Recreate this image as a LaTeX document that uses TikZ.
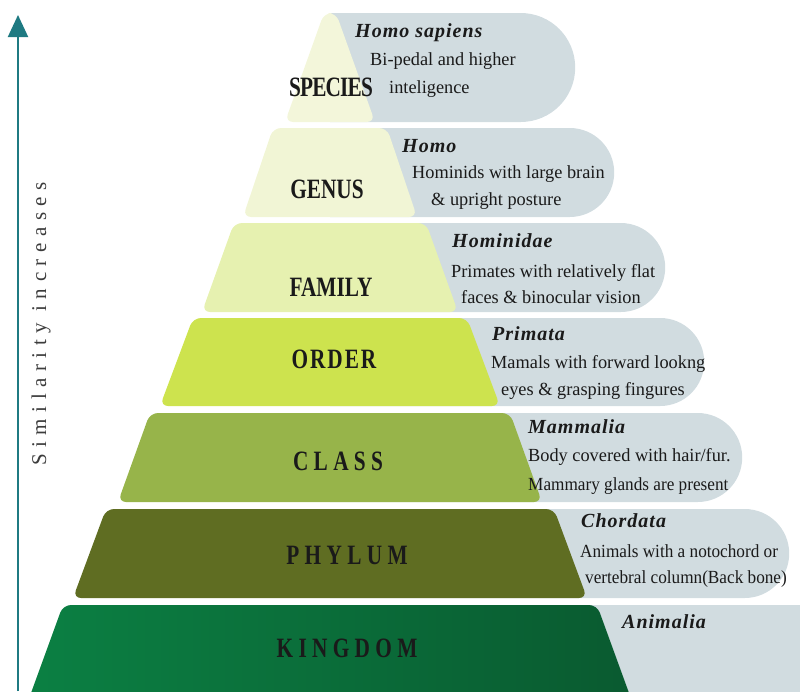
\documentclass[tikz,border=0pt]{standalone}
\usepackage{fontspec}
\setmainfont{Liberation Serif}
\newfontfamily\rankfont[FakeStretch=0.76]{Liberation Serif}
\newfontfamily\notefont[FakeStretch=0.99]{Liberation Serif}
\newfontfamily\narrownote[FakeStretch=0.93]{Liberation Serif}
\usetikzlibrary{arrows.meta,shapes.misc,positioning}
\definecolor{bubblegray}{HTML}{D1DCE0}
\definecolor{axisteal}{HTML}{1F7A82}
\definecolor{inkblack}{HTML}{1A1A1A}
\definecolor{speciesfill}{HTML}{F3F6DA}
\definecolor{genusfill}{HTML}{F1F5D5}
\definecolor{familyfill}{HTML}{E6F1B0}
\definecolor{orderfill}{HTML}{CDE34E}
\definecolor{classfill}{HTML}{97B44A}
\definecolor{phylumfill}{HTML}{5F6D22}
\definecolor{kingdomA}{HTML}{0B8043}
\definecolor{kingdomB}{HTML}{0A5A30}
\tikzset{
   bubble/.style={rounded rectangle,rounded rectangle west arc=none,
     fill=bubblegray,inner sep=0pt,anchor=west},
   rank/.style={text=inkblack,
     font=\rankfont\bfseries\fontsize{28}{28}\selectfont},
   widerank/.style={rank,
     font=\rankfont\bfseries\fontsize{28}{28}\selectfont\addfontfeature{LetterSpace=19}},
   taxon/.style={anchor=base west,inner sep=0pt,text=inkblack,
     font=\bfseries\itshape\fontsize{20}{20}\selectfont\addfontfeature{LetterSpace=5}},
   note/.style={anchor=base west,inner sep=0pt,text=inkblack,
     font=\notefont\fontsize{18.5}{18.5}\selectfont},
}
\begin{document}
\begin{tikzpicture}[x=1pt,y=-1pt,
      axisarrow/.style={-{Triangle[width=20pt,length=22pt]},line width=2pt,axisteal},
      level/.style={rounded corners=8pt},
      ]
      \useasboundingbox (0,0) rectangle (800,691);
      \clip (0,0) rectangle (800,691);

      % grey bubbles behind the steps
      \node (bub1) [bubble,minimum height=109pt,minimum width=245pt] at (330,67.5) {};
      \node (bub2) [bubble,minimum height=89pt,minimum width=284pt] at (330,172.5) {};
      \node (bub3) [bubble,minimum height=89pt,minimum width=335pt] at (330,267.5) {};
      \node (bub4) [bubble,minimum height=88pt,minimum width=374pt] at (330,362) {};
      \node (bub5) [bubble,minimum height=89pt,minimum width=412pt] at (330,457.5) {};
      \node (bub6) [bubble,minimum height=89pt,minimum width=459pt] at (330,553.5) {};
      \node (bub7) [bubble,minimum height=175pt,minimum width=600pt] at (330,692.5) {};

      % pyramid steps
      \fill [level,speciesfill] (324,13) -- (336,13) -- (375,122) -- (285,122) -- cycle;
      \fill [level,genusfill] (273,128) -- (387,128) -- (417,217) -- (243,217) -- cycle;
      \fill [level,familyfill] (234,223) -- (426,223) -- (458,312) -- (202,312) -- cycle;
      \fill [level,orderfill] (193,318) -- (467,318) -- (500,406) -- (160,406) -- cycle;
      \fill [level,classfill] (150,413) -- (510,413) -- (542,502) -- (118,502) -- cycle;
      \fill [level,phylumfill] (106,509) -- (554,509) -- (587,598) -- (73,598) -- cycle;
      \shade [level,left color=kingdomA,right color=kingdomB]
        (63,605) -- (597,605) -- (637,715) -- (23,715) -- cycle;

      % ranks
      \node (species) [rank,font=\rankfont\bfseries\fontsize{28}{28}\selectfont\addfontfeature{LetterSpace=-3}] at (331,87.5) {SPECIES};
      \node (genus) [rank] at (327,189) {GENUS};
      \node (family) [rank] at (331,287) {FAMILY};
      \node (order) [rank,font=\rankfont\bfseries\fontsize{28}{28}\selectfont\addfontfeature{LetterSpace=7}] at (334,359) {ORDER};
      \node (class) [widerank] at (338,461.5) {CLASS};
      \node (phylum) [widerank] at (347,555) {PHYLUM};
      \node (kingdom) [widerank] at (347,648) {KINGDOM};

      % taxa and their notes
      \node (sapiens) [taxon] at (355,37) {Homo sapiens};
      \node (sapiens1) [note] at (370,65) {Bi-pedal and higher};
      \node (sapiens2) [note] at (389,93) {inteligence};
      \node (homo) [taxon] at (402,152) {Homo};
      \node (homo1) [note] at (412,178) {Hominids with large brain};
      \node (homo2) [note] at (431,205) {\& upright posture};
      \node (hominidae) [taxon] at (452,247) {Hominidae};
      \node (hominidae1) [note] at (451,277) {Primates with relatively flat};
      \node (hominidae2) [note] at (461,303) {faces \& binocular vision};
      \node (primata) [taxon] at (492,340) {Primata};
      \node (primata1) [note] at (491,368) {Mamals with forward lookng};
      \node (primata2) [note] at (501,395) {eyes \& grasping fingures};
      \node (mammalia) [taxon] at (528,433) {Mammalia};
      \node (mammalia1) [note] at (528,461) {Body covered with hair/fur.};
      \node (mammalia2) [note,font=\narrownote\fontsize{18.5}{18.5}\selectfont] at (528,490) {Mammary glands are present};
      \node (chordata) [taxon] at (581,527) {Chordata};
      \node (chordata1) [note,font=\narrownote\fontsize{18.5}{18.5}\selectfont] at (580,557) {Animals with a notochord or};
      \node (chordata2) [note,font=\narrownote\fontsize{18.5}{18.5}\selectfont] at (585,583) {vertebral column(Back bone)};
      \node (animalia) [taxon] at (622,628) {Animalia};

      % similarity axis
      \coordinate (axisbottom) at (18,691);
      \coordinate (axistop) at (18,15);
      \draw [axisarrow] (axisbottom) -- (axistop);
      \node (similarity) [rotate=90,anchor=base,text=inkblack!85,
        font=\fontsize{21}{21}\selectfont\addfontfeature{LetterSpace=31}]
        at (46,324) {Similarity increases};
\end{tikzpicture}
\end{document}
